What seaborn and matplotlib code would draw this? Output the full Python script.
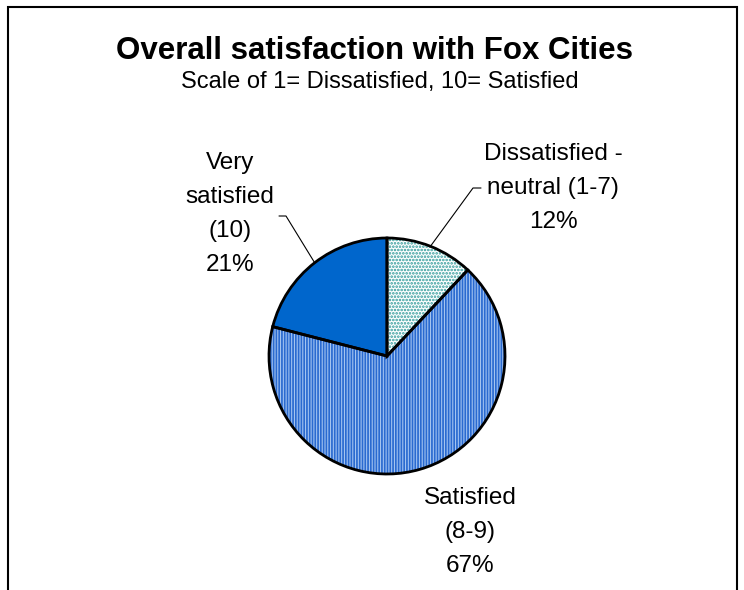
import numpy as np
import matplotlib
matplotlib.use("Agg")
import matplotlib.pyplot as plt
import matplotlib.patches as mpatches
import seaborn as sns

# ---- data ----
categories = ["Dissatisfied -\nneutral (1-7)", "Satisfied\n(8-9)", "Very\nsatisfied\n(10)"]
shares = [12, 67, 21]
title = "Overall satisfaction with Fox Cities"
subtitle = "Scale of 1= Dissatisfied, 10= Satisfied"

# ---- styles ----
face_cols = ["white", "#a9c8f2", "#0066cc"]
hatch_cols = ["#2f9a9a", "#2a6ad0", "#0066cc"]
hatches = [".....", "||||||", None]

sns.set_theme(style="white")
plt.rcParams["font.family"] = ["Liberation Sans", "DejaVu Sans"]
plt.rcParams["text.color"] = "black"
plt.rcParams["hatch.linewidth"] = 1.25

W, H = 744, 590
fig = plt.figure(figsize=(W / 100, H / 100), dpi=100)
ax = fig.add_axes([0, 0, 1, 1])

center = (387, H - 356)
radius = 118

# fill + hatch layer
wedges, _ = ax.pie(shares, colors=face_cols, startangle=90, counterclock=False,
                   center=center, radius=radius, wedgeprops=dict(linewidth=0))
for w, hc, hp in zip(wedges, hatch_cols, hatches):
    w.set_edgecolor(hc)
    if hp:
        w.set_hatch(hp)

# outline layer
ax.pie(shares, startangle=90, counterclock=False, center=center, radius=radius,
       wedgeprops=dict(fill=False, edgecolor="black", linewidth=2.0))

ax.set_xlim(0, W)
ax.set_ylim(0, H)
ax.set_aspect("equal")
ax.axis("off")

# labels (pixel layout, y measured from top)
label_xy = [(553, 188), (470, 532), (230, 214)]
leaders = [((473, 188), (481, 188)), None, ((286, 216), (279, 216))]
for w, cat, s, (lx, ly), ld in zip(wedges, categories, shares, label_xy, leaders):
    ax.text(lx, H - ly, f"{cat}\n{s}%", ha="center", va="center",
            fontsize=17.5, linespacing=1.72, color="black")
    if ld:
        mid = np.deg2rad((w.theta1 + w.theta2) / 2)
        ex = center[0] + radius * np.cos(mid)
        ey = center[1] + radius * np.sin(mid)
        (bx, by), (tx, ty) = ld
        ax.plot([ex, bx, tx], [ey, H - by, H - ty], color="black", lw=0.8)

ax.text(374, H - 51, title, ha="center", va="center", fontsize=22.5,
        fontweight="bold", color="black")
ax.text(380, H - 82, subtitle, ha="center", va="center", fontsize=17, color="black")

# chart frame
ax.add_patch(mpatches.Rectangle((8, -20), 729, H - 7 + 20, fill=False,
                                edgecolor="black", linewidth=1.5))

fig.savefig("out.png", dpi=100)
